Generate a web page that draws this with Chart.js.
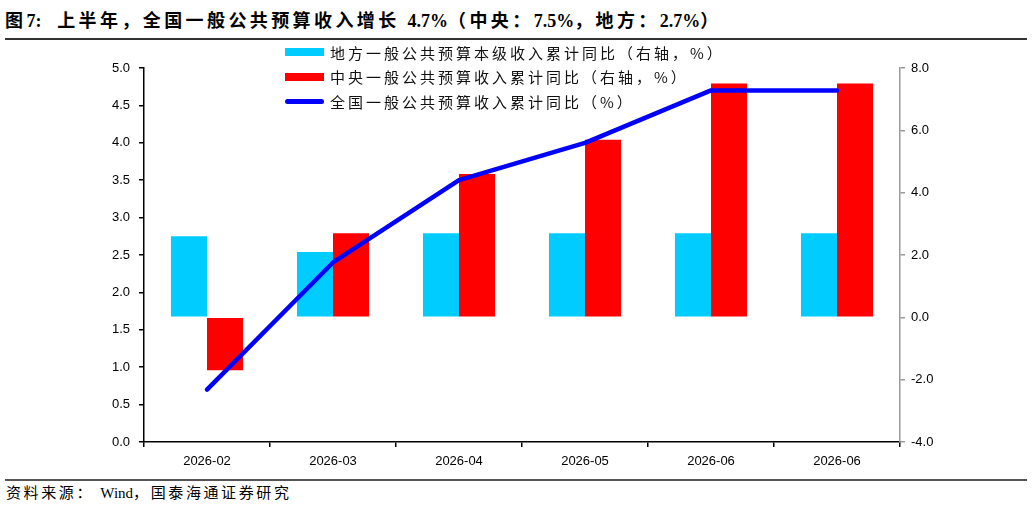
<!DOCTYPE html>
<html>
<head>
<meta charset="utf-8">
<script src="https://cdn.jsdelivr.net/npm/chart.js@4"></script>
<style>
  html, body { margin: 0; padding: 0; background: #fff; }
  body { width: 1032px; height: 505px; position: relative; overflow: hidden; }
  .title {
    position: absolute; left: 5px; top: 6px;
    font: bold 18px "Liberation Serif", "Noto Sans CJK SC", serif;
    letter-spacing: 3.4px; color: #000; white-space: nowrap;
  }
  .title b, .source b { letter-spacing: 0; font-weight: inherit; }
  .rule-top { position: absolute; left: 5px; width: 1022px; top: 38px; height: 2px; background: #333; }
  .rule-bottom { position: absolute; left: 5px; width: 1022px; top: 479px; height: 1.5px; background: #555; }
  .source {
    position: absolute; left: 6px; top: 481px;
    font: 15px "Liberation Serif", "Noto Sans CJK SC", serif;
    letter-spacing: 2.6px; color: #000; white-space: nowrap;
  }
  #wrap { position: absolute; left: 0; top: 42px; width: 1032px; height: 436px; }
  #legend { position: absolute; left: 285px; top: 40px; }
  .item { height: 24.5px; display: flex; align-items: center; }
  .swatch { width: 39px; height: 8px; margin-right: 6px; }
  .swatch.line { height: 5px; border-radius: 3px; }
  .item span { font: 15px "Noto Sans CJK SC", sans-serif; letter-spacing: 3px; color: #111; white-space: nowrap; }
</style>
</head>
<body>
<div class="title">图<b>7:</b>&nbsp; 上半年，全国一般公共预算收入增长 <b>4.7%</b>（中央：<b>7.5%</b>，地方：<b>2.7%</b>）</div>
<div class="rule-top"></div>
<div id="wrap"><canvas id="chart"></canvas></div>
<div id="legend"></div>
<div class="rule-bottom"></div>
<div class="source">资料来源：&nbsp;<b>Wind</b>，国泰海通证券研究</div>
<script>
// months on the x axis (the last one repeats in the source)
const categories = ["2026-02", "2026-03", "2026-04", "2026-05", "2026-06", "2026-06"];

// right axis, %
const localYoY = [2.6, 2.1, 2.7, 2.7, 2.7, 2.7];
const centralYoY = [-1.7, 2.7, 4.6, 5.7, 7.5, 7.5];

// left axis, %
const nationalYoY = [0.7, 2.4, 3.5, 4.0, 4.7, 4.7];

const seriesNames = [
  "地方一般公共预算本级收入累计同比（右轴，%）",
  "中央一般公共预算收入累计同比（右轴，%）",
  "全国一般公共预算收入累计同比（%）",
];

const CYAN = "#00CCFF";
const RED = "#FF0000";
const BLUE = "#0000FF";

const tickFont = { family: "'Liberation Sans', Arial, sans-serif", size: 13 };

const datasets = [
  {
    type: "bar", label: seriesNames[0], data: localYoY, yAxisID: "yR",
    backgroundColor: CYAN, barPercentage: 1, categoryPercentage: 0.572, order: 1,
  },
  {
    type: "bar", label: seriesNames[1], data: centralYoY, yAxisID: "yR",
    backgroundColor: RED, barPercentage: 1, categoryPercentage: 0.572, order: 1,
  },
  {
    type: "line", label: seriesNames[2], data: nationalYoY, yAxisID: "yL",
    borderColor: BLUE, borderWidth: 4.5, pointRadius: 0, tension: 0,
    borderCapStyle: "round", borderJoinStyle: "round", order: -1,
  },
];

new Chart(document.getElementById("chart"), {
  data: { labels: categories, datasets },
  options: {
    responsive: true,
    maintainAspectRatio: false,
    animation: false,
    layout: { padding: { top: 26, bottom: 0, left: 0, right: 0 } },
    plugins: { legend: { display: false }, tooltip: { enabled: false } },
    scales: {
      x: {
        offset: true,
        grid: { offset: true, drawOnChartArea: false, drawTicks: true, tickLength: 5, color: "#000", lineWidth: 1.5 },
        border: { color: "#000", width: 1.5 },
        ticks: { color: "#000", font: tickFont, padding: 7, maxRotation: 0 },
        afterFit(scale) { scale.height = 36; },
      },
      yL: {
        position: "left", min: 0, max: 5,
        grid: { drawOnChartArea: false, tickLength: 5, color: "#000", lineWidth: 1.5 },
        border: { color: "#000", width: 1.5 },
        ticks: { stepSize: 0.5, color: "#000", font: tickFont, padding: 9, callback: v => v.toFixed(1) },
        afterFit(scale) { scale.width = 144; },
      },
      yR: {
        position: "right", min: -4, max: 8,
        grid: { drawOnChartArea: false, tickLength: 5, color: "#999", lineWidth: 1.5 },
        border: { color: "#999", width: 1.5 },
        ticks: { stepSize: 2, color: "#000", font: tickFont, padding: 6, callback: v => v.toFixed(1) },
        afterFit(scale) { scale.width = 132; },
      },
    },
  },
});

// legend stacked in three rows, built from the datasets
const legend = document.getElementById("legend");
datasets.forEach(ds => {
  const row = document.createElement("div");
  row.className = "item";
  const sw = document.createElement("div");
  sw.className = "swatch" + (ds.type === "line" ? " line" : "");
  sw.style.background = ds.type === "line" ? ds.borderColor : ds.backgroundColor;
  const txt = document.createElement("span");
  txt.textContent = ds.label;
  row.appendChild(sw);
  row.appendChild(txt);
  legend.appendChild(row);
});
</script>
</body>
</html>
